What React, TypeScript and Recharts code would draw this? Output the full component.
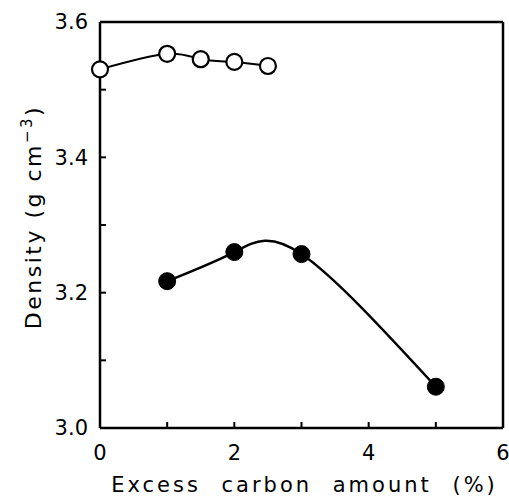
import { LineChart, Line, XAxis, YAxis } from 'recharts';

// open circles
const openX = [0, 1, 1.5, 2, 2.5];
const openDensity = [3.53, 3.553, 3.545, 3.541, 3.535];
// filled circles
const filledX = [1, 2, 3, 5];
const filledDensity = [3.217, 3.26, 3.257, 3.061];

const xTicks = [0, 1, 2, 3, 4, 5, 6];
const yTicks = [3.0, 3.1, 3.2, 3.3, 3.4, 3.5, 3.6];

const FONT = '"DejaVu Sans", sans-serif';

const openData = openX.map((x, i) => ({ x, d: openDensity[i] }));
const filledData = filledX.map((x, i) => ({ x, d: filledDensity[i] }));

const axisStyle = { stroke: '#000', strokeWidth: 2.5 };
const tickStyle = { stroke: '#000', strokeWidth: 2 };

// tick y sits 6px inside the frame (negative tickSize)
const BottomTick = ({ x, y, payload }: any) =>
  payload.value % 2 === 0 ? (
    <text x={x} y={y + 38} textAnchor="middle" fontSize={21} fontFamily={FONT} fill="#000">
      {payload.value}
    </text>
  ) : null;

const LeftTick = ({ x, y, payload }: any) =>
  Math.round(payload.value * 10) % 2 === 0 ? (
    <text x={x - 18} y={y} dy="0.35em" textAnchor="end" fontSize={21} fontFamily={FONT} fill="#000">
      {payload.value.toFixed(1)}
    </text>
  ) : null;

const YTitle = ({ viewBox }: any) => {
  const cx = 41;
  const cy = viewBox.y + viewBox.height / 2 - 8;
  return (
    <text x={cx} y={cy} transform={`rotate(-90 ${cx} ${cy})`} textAnchor="middle" fontSize={22} fontFamily={FONT} fill="#000" letterSpacing={2.5}>
      <tspan>Density (g cm</tspan>
      <tspan dy={-9} fontSize={15}>−3</tspan>
      <tspan dy={9}>)</tspan>
    </text>
  );
};

const XTitle = ({ viewBox }: any) => (
  <text x={viewBox.x + viewBox.width / 2 + 3} y={492} textAnchor="middle" fontSize={21} fontFamily={FONT} fill="#000" letterSpacing={3} wordSpacing={11}>
    Excess carbon amount (%)
  </text>
);

const OpenDot = (props: any) => (
  <circle key={props.index} cx={props.cx} cy={props.cy} r={8} fill="#fff" stroke="#000" strokeWidth={2.2} />
);
const FilledDot = (props: any) => (
  <circle key={props.index} cx={props.cx} cy={props.cy} r={8.5} fill="#000" stroke="#000" strokeWidth={1} />
);

export default function App() {
  return (
    <div style={{ position: 'absolute', left: 0, top: 0, background: '#fff' }}>
      <LineChart width={509} height={498} margin={{ top: 21, right: 5, bottom: 30, left: 40 }}>
        <XAxis
          dataKey="x"
          type="number"
          domain={[0, 6]}
          ticks={xTicks}
          height={40}
          tickSize={-6}
          tickMargin={0}
          tickLine={tickStyle}
          tick={<BottomTick />}
          axisLine={axisStyle}
          label={<XTitle />}
        />
        <XAxis
          xAxisId="top"
          orientation="top"
          type="number"
          domain={[0, 6]}
          ticks={xTicks}
          height={1}
          tickSize={-6}
          tickMargin={0}
          tickLine={tickStyle}
          tick={false}
          axisLine={axisStyle}
        />
        <YAxis
          type="number"
          domain={[3.0, 3.6]}
          ticks={yTicks}
          width={60}
          tickSize={-6}
          tickMargin={0}
          tickLine={tickStyle}
          tick={<LeftTick />}
          axisLine={axisStyle}
          label={<YTitle />}
        />
        <YAxis
          yAxisId="right"
          orientation="right"
          type="number"
          domain={[3.0, 3.6]}
          ticks={yTicks}
          width={1}
          tickSize={-6}
          tickMargin={0}
          tickLine={tickStyle}
          tick={false}
          axisLine={axisStyle}
        />
        <Line
          data={openData}
          dataKey="d"
          type="natural"
          stroke="#000"
          strokeWidth={2}
          dot={<OpenDot />}
          activeDot={false}
          isAnimationActive={false}
        />
        <Line
          data={filledData}
          dataKey="d"
          type="natural"
          stroke="#000"
          strokeWidth={2.4}
          dot={<FilledDot />}
          activeDot={false}
          isAnimationActive={false}
        />
      </LineChart>
    </div>
  );
}
